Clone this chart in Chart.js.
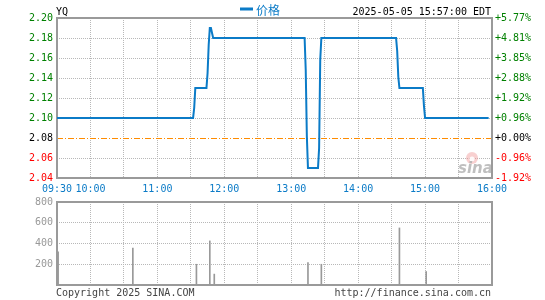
<!DOCTYPE html>
<html><head><meta charset="utf-8">
<script src="https://cdn.jsdelivr.net/npm/chart.js@4.4.0/dist/chart.umd.min.js"></script>
<style>
html,body{margin:0;padding:0;background:#fff;}
#wrap{position:relative;width:545px;height:300px;overflow:hidden;background:#fff;}
canvas{position:absolute;left:0;top:0;}
</style></head><body>
<div id="wrap"><canvas id="c1" width="545" height="300"></canvas><canvas id="c2" width="545" height="300"></canvas></div>
<script>
const symbol = "YQ";
const legendLabel = "价格";
const stampText = "2025-05-05 15:57:00 EDT";
const copyrightText = "Copyright 2025 SINA.COM";
const urlText = "http://finance.sina.com.cn";
const prevClose = 2.08;

const priceTimes = ["09:30","11:32","11:33","11:34","11:44","11:45","11:46","11:47","11:48","11:49","11:50",
  "13:12","13:13","13:14","13:15","13:24","13:25","13:26","13:27","14:34","14:35","14:36","14:37",
  "14:58","14:59","15:00","15:57"];
const priceValues = [2.10,2.10,2.11,2.13,2.13,2.145,2.173,2.19,2.19,2.185,2.18,
  2.18,2.148,2.082,2.05,2.05,2.07,2.158,2.18,2.18,2.167,2.141,2.13,
  2.13,2.112,2.10,2.10];

const volTimes = ["09:31","10:38","11:35","11:47","11:51","13:15","13:27","14:37","15:01"];
const volValues = [320,355,200,425,105,215,200,550,130];

const priceTicks = [2.04,2.06,2.08,2.10,2.12,2.14,2.16,2.18,2.20];
const priceTickLabels = ["2.04","2.06","2.08","2.10","2.12","2.14","2.16","2.18","2.20"];
const pctLabels = ["-1.92%","-0.96%","+0.00%","+0.96%","+1.92%","+2.88%","+3.85%","+4.81%","+5.77%"];
const volTicks = [0,200,400,600,800];
const volTickLabels = ["","200","400","600","800"];
const timeTicks = ["09:30","10:00","10:30","11:00","11:30","12:00","12:30","13:00","13:30","14:00","14:30","15:00","15:30","16:00"];
const timeTickLabels = ["09:30","10:00","","11:00","","12:00","","13:00","","14:00","","15:00","","16:00"];

function toMin(t){const [h,m]=t.split(':').map(Number);return (h*60+m)-(9*60+30);}
const MONO = '"DejaVu Sans Mono", "Liberation Mono", monospace';
const GREEN = '#008000', RED = '#ff0000', BLUE = '#0b7bc7', GRIDC = '#b8b8b8', FRAME = '#9a9a9a';
const xMin = toMin("09:30"), xMax = toMin("16:00");

function tickColor(v){ if (Math.abs(v-prevClose)<1e-6) return '#000'; return v>prevClose?GREEN:RED; }

const xTickValues = timeTicks.map(toMin);

function frameAndLines(isUpper){
  return {
    id: 'frame'+(isUpper?'U':'L'),
    beforeDatasetsDraw(chart){
      const {ctx, chartArea:a} = chart;
      ctx.save();
      if (isUpper){
        // watermark
        ctx.fillStyle = 'rgba(240,150,150,0.45)';
        ctx.beginPath(); ctx.arc(472,158,6,0,Math.PI*2); ctx.fill();
        ctx.fillStyle = 'rgba(255,255,255,0.9)';
        ctx.beginPath(); ctx.arc(472,159,2.5,0,Math.PI*2); ctx.fill();
        ctx.font = 'italic bold 15px "DejaVu Sans", sans-serif';
        ctx.fillStyle = 'rgba(175,175,175,0.8)';
        ctx.textBaseline = 'alphabetic'; ctx.textAlign='left';
        ctx.fillText('sina', 458, 173);
        // prev close line
        const y = Math.round(chart.scales.y.getPixelForValue(prevClose))+0.5;
        ctx.strokeStyle = '#ff8c00'; ctx.lineWidth = 1;
        ctx.setLineDash([6,2,1,2]);
        ctx.beginPath(); ctx.moveTo(a.left, y); ctx.lineTo(a.right, y); ctx.stroke();
        ctx.setLineDash([]);
      }
      ctx.strokeStyle = FRAME; ctx.lineWidth = 2;
      ctx.strokeRect(a.left, a.top, a.right-a.left, a.bottom-a.top);
      ctx.restore();
    }
  };
}

const headerPlugin = {
  id:'header',
  afterDraw(chart){
    const ctx = chart.ctx; ctx.save();
    ctx.textBaseline='middle';
    ctx.font = '10px '+MONO; ctx.fillStyle='#000'; ctx.textAlign='left';
    ctx.fillText(symbol, 56, 12);
    ctx.textAlign='right';
    ctx.fillText(stampText, 491, 12);
    ctx.fillStyle = BLUE; ctx.fillRect(240, 7.5, 13, 3);
    ctx.font = '12px "Noto Sans CJK SC", sans-serif'; ctx.textAlign='left';
    ctx.fillText(legendLabel, 256, 10);
    ctx.restore();
  }
};
const footerPlugin = {
  id:'footer',
  afterDraw(chart){
    const ctx = chart.ctx; ctx.save();
    ctx.textBaseline='middle'; ctx.font='10px '+MONO; ctx.fillStyle='#444';
    ctx.textAlign='left'; ctx.fillText(copyrightText, 56, 293);
    ctx.textAlign='right'; ctx.fillText(urlText, 491, 293);
    ctx.restore();
  }
};

const xGrid = {
  drawTicks:false,
  color:(c)=>{ const v=c.tick&&c.tick.value; return (v===xMin||v===xMax)?'rgba(0,0,0,0)':GRIDC; },
  lineWidth:1
};

new Chart(document.getElementById('c1'), {
  type:'line',
  data:{ datasets:[{
    data: priceTimes.map((t,i)=>({x:toMin(t), y:priceValues[i]})),
    borderColor: BLUE, borderWidth:2, pointRadius:0, tension:0, fill:false
  }]},
  options:{
    responsive:false, devicePixelRatio:1, animation:false,
    layout:{padding:{left:0,right:0,top:18,bottom:102}},
    plugins:{legend:{display:false}, tooltip:{enabled:false}},
    scales:{
      x:{ type:'linear', min:xMin, max:xMax, offset:false,
        afterBuildTicks:(s)=>{ s.ticks = xTickValues.map(v=>({value:v})); },
        afterFit:(s)=>{ s.height = 20; },
        ticks:{ autoSkip:false, maxRotation:0, padding:5, color:BLUE, font:{family:MONO,size:10},
          callback:(v,i)=>timeTickLabels[i] },
        grid: xGrid,
        border:{display:false, dash:[1,1]}
      },
      y:{ position:'left', min:2.04, max:2.20,
        afterBuildTicks:(s)=>{ s.ticks = priceTicks.map(v=>({value:v})); },
        afterFit:(s)=>{ s.width = 57; },
        ticks:{ autoSkip:false, padding:4, font:{family:MONO,size:10},
          color:(c)=>tickColor(c.tick.value),
          callback:(v,i)=>priceTickLabels[i] },
        grid:{ drawTicks:false, lineWidth:1,
          color:(c)=>{ const v=c.tick&&c.tick.value; return (Math.abs(v-2.04)<1e-6||Math.abs(v-2.20)<1e-6||Math.abs(v-prevClose)<1e-6)?'rgba(0,0,0,0)':GRIDC; } },
        border:{display:false, dash:[1,1]}
      },
      yR:{ position:'right', min:2.04, max:2.20,
        afterBuildTicks:(s)=>{ s.ticks = priceTicks.map(v=>({value:v})); },
        afterFit:(s)=>{ s.width = 53; },
        ticks:{ autoSkip:false, padding:3, font:{family:MONO,size:10},
          color:(c)=>tickColor(c.tick.value),
          callback:(v,i)=>pctLabels[i] },
        grid:{ display:false, drawTicks:false },
        border:{display:false}
      }
    }
  },
  plugins:[frameAndLines(true), headerPlugin]
});

new Chart(document.getElementById('c2'), {
  type:'bar',
  data:{ datasets:[{
    data: volTimes.map((t,i)=>({x:toMin(t), y:volValues[i]})),
    backgroundColor:'#999', borderWidth:0, barThickness:1
  }]},
  options:{
    responsive:false, devicePixelRatio:1, animation:false,
    layout:{padding:{left:0,right:53,top:202,bottom:15}},
    plugins:{legend:{display:false}, tooltip:{enabled:false}},
    scales:{
      x:{ type:'linear', min:xMin, max:xMax, offset:false,
        afterBuildTicks:(s)=>{ s.ticks = xTickValues.map(v=>({value:v})); },
        afterFit:(s)=>{ s.height = 0; },
        ticks:{ display:false },
        grid: Object.assign({offset:false}, xGrid),
        border:{display:false, dash:[1,1]}
      },
      y:{ position:'left', min:0, max:800,
        afterBuildTicks:(s)=>{ s.ticks = volTicks.map(v=>({value:v})); },
        afterFit:(s)=>{ s.width = 57; },
        ticks:{ autoSkip:false, padding:4, color:'#999', font:{family:MONO,size:10},
          callback:(v,i)=>volTickLabels[i] },
        grid:{ drawTicks:false, lineWidth:1,
          color:(c)=>{ const v=c.tick&&c.tick.value; return (v===0||v===800)?'rgba(0,0,0,0)':GRIDC; } },
        border:{display:false, dash:[1,1]}
      }
    }
  },
  plugins:[frameAndLines(false), footerPlugin]
});
</script>
</body></html>
